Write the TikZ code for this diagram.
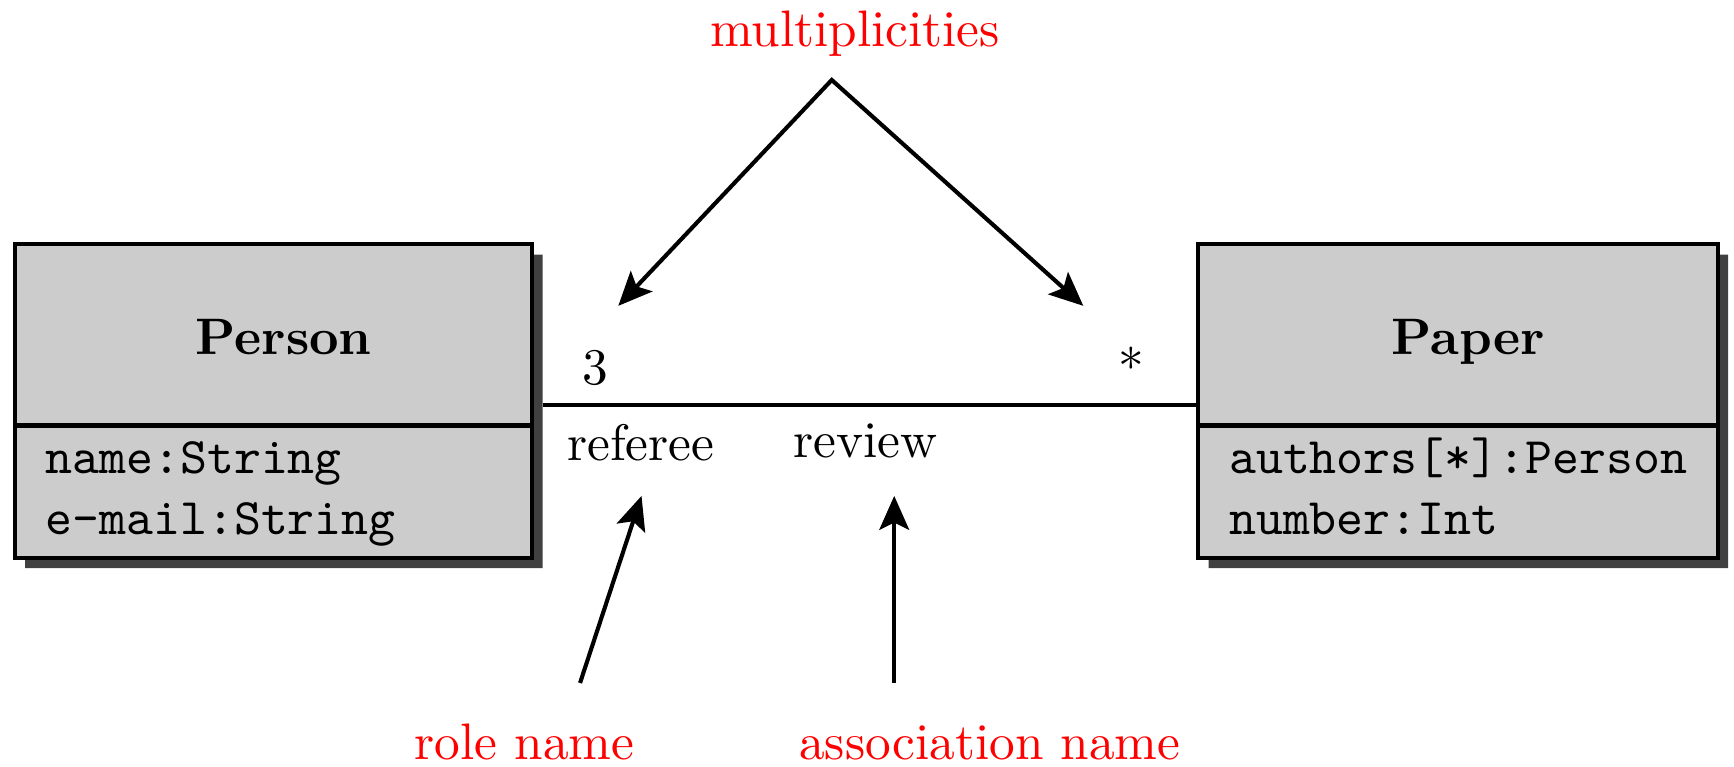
\documentclass[tikz,border=0pt]{standalone}
\usepackage{color}
\usepackage{tikz}
\usetikzlibrary{positioning}
\usetikzlibrary{shapes,arrows.meta,shadows}
\usepackage{amsmath,amssymb}

\begin{document}
\begin{tikzpicture}[auto, >={Stealth[length=6.6pt,width=5.8pt,inset=1.4pt]},
	umlclass/.style={rectangle split, rectangle split parts=2, draw, thick, fill=black!20,
		rectangle split part align={center,left}, minimum width=3.545cm,
		inner xsep=6pt, inner ysep=0.5pt, outer sep=0pt,
		drop shadow={shadow xshift=2pt, shadow yshift=-2pt, fill=black!75, opacity=1}},
	remark/.style={text=red}]
		% Frame
		\useasboundingbox (0cm,0cm) rectangle (11.877cm,5.253cm);

		% Class 1 (Person)
		\node [umlclass, anchor=north west] (person) at (0.101cm,3.579cm)
			{\rule[-12.9pt]{0pt}{33.5pt}\hspace*{4pt}\textbf{Person}
			\nodepart{second}\begin{tabular}{@{}l@{}}\texttt{name:String}\\ \texttt{e-mail:String}\end{tabular}};

		% Class 2 (Paper)
		\node [umlclass, anchor=north west] (paper) at (8.208cm,3.579cm)
			{\rule[-12.9pt]{0pt}{33.5pt}\hspace*{4pt}\textbf{Paper}
			\nodepart{second}\begin{tabular}{@{}l@{}}\texttt{authors[*]:Person}\\ \texttt{number:Int}\end{tabular}};

		% Association (review) with multiplicities and role name
		\draw [thick, shorten <=2pt] ([yshift=-0.7pt]person.east) -- ([yshift=-0.7pt]paper.west)
			node [pos=0.095, above] (multperson) {3}
			node [pos=0.899, above] (multpaper) {*}
			node [pos=0.163, below] (rolename) {referee}
			node [pos=0.5, below] (assocname) {review};

		% Multiplicities remark
		\node [remark, anchor=base] (multnote) at (5.856cm,4.934cm) {multiplicities};
		\coordinate (apex) at (5.697cm,4.705cm);
		\coordinate (multL) at (4.235cm,3.158cm);
		\coordinate (multR) at (7.420cm,3.158cm);
		\draw [thick,<->] (multL) -- (apex) -- (multR);

		% Role name remark
		\node [remark, anchor=base] (rolenote) at (3.592cm,0.048cm) {role name};
		\coordinate (roleTail) at (3.973cm,0.575cm);
		\coordinate (roleTip) at (4.394cm,1.856cm);
		\draw [thick,->] (roleTail) -- (roleTip);

		% Association name remark
		\node [remark, anchor=base] (assocnote) at (6.780cm,0.048cm) {association name};
		\coordinate (assocTail) at (6.125cm,0.575cm);
		\coordinate (assocTip) at (6.125cm,1.856cm);
		\draw [thick,->] (assocTail) -- (assocTip);
\end{tikzpicture}
\end{document}
